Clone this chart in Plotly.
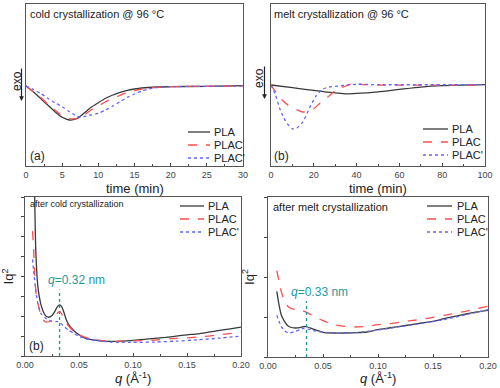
import plotly.graph_objects as go

# ---------------- data ----------------
# (a) cold crystallization @ 96 C  (time in min, heat flow arbitrary units)
ta_pla = [0, 1, 2, 3, 4, 5, 6, 7, 8, 9, 10, 11, 12, 13, 14, 15, 16, 18, 20, 25, 30]
ya_pla = [0, -5.7, -12.3, -19, -25.7, -31.3, -34, -32.7, -27.3, -21.3, -16.7, -12.3, -9, -6.3, -4.3, -3, -2, -1, -0.7, -0.3, 0.3]
ta_plac = [0, 1, 2, 3, 4, 5, 6, 7, 8, 9, 10, 11, 12, 13, 14, 15, 16, 18, 20, 25, 30]
ya_plac = [0, -6, -11.3, -18, -24, -30, -32.7, -32.3, -29, -24, -20, -15.7, -12.3, -9.3, -6.7, -4.7, -3, -1.3, -0.7, -0.3, 0]
ta_placp = [0, 1, 2, 3, 4, 5, 6, 7, 7.5, 8, 9, 10, 11, 12, 13, 14, 15, 16, 17, 18, 20, 25, 30]
ya_placp = [0, -3.3, -7.3, -12.3, -16.7, -20.7, -25.7, -30, -31.3, -30.7, -29, -27.3, -24, -20, -15.7, -11.3, -8, -5, -3, -1.7, -0.7, -0.3, 0]

# (b) melt crystallization @ 96 C
tb_pla = [0, 10, 20, 25, 30, 35, 40, 50, 60, 70, 80, 100]
yb_pla = [0, -2.7, -5.3, -6.7, -7.7, -8.7, -8.3, -6.7, -4.3, -2, -0.7, 0.3]
tb_plac = [0, 2, 5, 8, 10, 13, 15, 17, 20, 23, 27, 30, 35, 38, 40, 42, 45, 50, 100]
yb_plac = [0, -6, -14.3, -20, -22.7, -25.3, -26.7, -26, -23.3, -17.7, -11, -5.3, -1, 1.3, 1.7, 0.7, 0.3, 0, 0]
tb_placp = [0, 2, 4, 6, 8, 10, 12, 15, 18, 21, 24, 27, 30, 35, 40, 50, 100]
yb_placp = [0, -9.3, -22.7, -32.7, -39.3, -43.3, -42.7, -36, -22.7, -11, -4.3, -2, -1.3, -0.3, 0.7, 0.3, 0.3]

# (c) SAXS after cold crystallization (q in 1/A, Iq^2 arbitrary units)
qc_pla = [0.009, 0.010, 0.012, 0.015, 0.018, 0.020, 0.022, 0.025, 0.028, 0.030, 0.032, 0.034, 0.036, 0.038,
          0.040, 0.045, 0.050, 0.055, 0.060, 0.070, 0.080, 0.090, 0.100, 0.110, 0.120, 0.130, 0.140,
          0.150, 0.160, 0.170, 0.180, 0.190, 0.200]
ic_pla = [160, 105.7, 69, 50.7, 42.3, 39.7, 39, 40.7, 45.7, 49.7, 51.3, 49.7, 44, 37.3,
          32.3, 25.7, 21.3, 18.3, 16.7, 15.3, 14.7, 15, 15.7, 16.7, 17.7, 18.7, 20,
          21.3, 22.3, 24, 25.7, 27.3, 29]
qc_plac = [0.007, 0.008, 0.009, 0.010, 0.012, 0.015, 0.018, 0.020, 0.025, 0.028, 0.030, 0.032, 0.034, 0.036,
           0.040, 0.045, 0.050, 0.060, 0.070, 0.080, 0.090, 0.100, 0.120, 0.140, 0.160, 0.180, 0.200]
ic_plac = [125.7, 107.3, 82.3, 65.7, 52.3, 40.7, 35, 34, 35.7, 39.7, 43, 45, 42.3, 37.3,
           30.7, 25, 21.3, 17.3, 15.7, 14.7, 15, 15.3, 16, 17.7, 19, 21.3, 24]
qc_placp = [0.007, 0.008, 0.010, 0.012, 0.015, 0.020, 0.025, 0.030, 0.032, 0.035, 0.040, 0.045, 0.050,
            0.060, 0.070, 0.080, 0.090, 0.100, 0.120, 0.140, 0.160, 0.180, 0.200]
ic_placp = [97.3, 85.7, 65.7, 52.3, 42.3, 37.3, 35, 34.7, 34, 30.7, 26.3, 23, 19.7,
            16.7, 15, 14, 13.7, 13.7, 14, 15, 16.3, 18, 20]

# (d) SAXS after melt crystallization
qd_pla = [0.008, 0.010, 0.012, 0.015, 0.018, 0.020, 0.025, 0.030, 0.033, 0.036, 0.040, 0.045, 0.050,
          0.060, 0.070, 0.080, 0.090, 0.100, 0.110, 0.120, 0.130, 0.140, 0.150, 0.160, 0.170,
          0.180, 0.190, 0.200]
id_pla = [65.7, 52.3, 42.3, 35.7, 31.3, 30, 29, 29.7, 30.7, 30, 28.3, 26.3, 24.7,
          24, 24, 24.3, 25, 27.3, 29, 30.7, 32.3, 34, 35.7, 38.3, 40.7,
          43, 45, 46.7]
qd_plac = [0.008, 0.010, 0.012, 0.015, 0.018, 0.020, 0.025, 0.030, 0.035, 0.040, 0.050, 0.060, 0.070,
           0.080, 0.090, 0.100, 0.110, 0.120, 0.130, 0.140, 0.150, 0.160, 0.170, 0.180, 0.190, 0.200]
id_plac = [86.3, 75.7, 65.7, 55.7, 50.7, 49, 47.3, 46.3, 44.7, 41.7, 36.3, 32.3, 30.7,
           30, 30.7, 32.3, 33.3, 34.7, 36.3, 37.7, 39.7, 41.7, 43.7, 45.7, 48.3, 50.7]
qd_placp = [0.008, 0.010, 0.012, 0.015, 0.018, 0.020, 0.025, 0.030, 0.033, 0.036, 0.040, 0.050, 0.060,
            0.080, 0.100, 0.120, 0.140, 0.160, 0.180, 0.200]
id_placp = [41.7, 35.7, 30.7, 26.3, 24.3, 24, 25.7, 27.7, 29, 28, 26.7, 24.7, 24,
            24.3, 27, 30.3, 33.7, 37.3, 42.3, 47.3]

series_names = ["PLA", "PLAC", "PLAC'"]
series_colors = ["#3a3a3a", "#ff4d4d", "#6464ff"]
series_dash = ["solid", "dash", "dot"]

peak_q_c = 0.032
peak_label_c = "<i>q</i>=0.32 nm"
peak_q_d = 0.035
peak_label_d = "<i>q</i>=0.33 nm"

x_ticks_a = [0, 5, 10, 15, 20, 25, 30]
x_ticks_b = [0, 20, 40, 60, 80, 100]
x_ticks_q = [0.00, 0.05, 0.10, 0.15, 0.20]

# ---------------- figure ----------------
FONT = "Liberation Sans, Arial, sans-serif"
W, H = 500, 388
fig = go.Figure()

panels = [
    ("x", "y", [(ta_pla, ya_pla), (ta_plac, ya_plac), (ta_placp, ya_placp)]),
    ("x2", "y2", [(tb_pla, yb_pla), (tb_plac, yb_plac), (tb_placp, yb_placp)]),
    ("x3", "y3", [(qc_pla, ic_pla), (qc_plac, ic_plac), (qc_placp, ic_placp)]),
    ("x4", "y4", [(qd_pla, id_pla), (qd_plac, id_plac), (qd_placp, id_placp)]),
]
for xa, ya, data in panels:
    for i, (xs, ys) in enumerate(data):
        fig.add_trace(go.Scatter(
            x=xs, y=ys, xaxis=xa, yaxis=ya, mode="lines", name=series_names[i],
            line=dict(color=series_colors[i], dash=series_dash[i], width=1.3, shape="spline", smoothing=0.6),
            showlegend=False))

# peak marker lines (vertical dotted teal)
teal = "#1f9a9a"
fig.add_trace(go.Scatter(x=[peak_q_c, peak_q_c], y=[0, 67], xaxis="x3", yaxis="y3", mode="lines",
                         line=dict(color=teal, dash="dot", width=1.3), showlegend=False))
fig.add_trace(go.Scatter(x=[peak_q_d, peak_q_d], y=[0, 56], xaxis="x4", yaxis="y4", mode="lines",
                         line=dict(color=teal, dash="dot", width=1.3), showlegend=False))


def px(xp):
    return xp / W


def py(yp):
    return 1 - yp / H


dom = {
    "a": ([px(26), px(243)], [py(166), py(4)]),
    "b": ([px(271), px(485)], [py(166), py(4)]),
    "c": ([px(25), px(241)], [py(356), py(197)]),
    "d": ([px(268), px(488)], [py(357), py(197)]),
}

axcommon = dict(showline=True, mirror=True, linecolor="#555555", linewidth=1.2,
                showgrid=False, zeroline=False, automargin=False,
                tickfont=dict(family=FONT, size=9, color="#444444"))
xcommon = dict(ticks="inside", ticklen=3, **axcommon)

tfont = dict(family=FONT, size=13, color="#222222")

fig.update_layout(
    width=W, height=H, margin=dict(l=0, r=0, t=0, b=0),
    paper_bgcolor="white", plot_bgcolor="white", showlegend=False,
    font=dict(family=FONT, color="#222222"),
    xaxis=dict(domain=dom["a"][0], anchor="y", range=[0, 30], tickvals=x_ticks_a,
               minor=dict(ticks="inside", ticklen=2, dtick=2.5), **xcommon),
    yaxis=dict(domain=dom["a"][1], anchor="x", range=[-80, 82], showticklabels=False, ticks="", **axcommon),
    xaxis2=dict(domain=dom["b"][0], anchor="y2", range=[0, 100], tickvals=x_ticks_b,
                minor=dict(ticks="inside", ticklen=2, dtick=10), **xcommon),
    yaxis2=dict(domain=dom["b"][1], anchor="x2", range=[-80, 80], showticklabels=False, ticks="", **axcommon),
    xaxis3=dict(domain=dom["c"][0], anchor="y3", range=[0, 0.2], tickvals=x_ticks_q, tickformat=".2f",
                minor=dict(ticks="inside", ticklen=2, dtick=0.025), **xcommon),
    yaxis3=dict(domain=dom["c"][1], anchor="x3", range=[0, 160], showticklabels=False,
                ticks="outside", ticklen=3, dtick=20,
                title=dict(text="Iq<sup>2</sup>", font=tfont, standoff=6), **axcommon),
    xaxis4=dict(domain=dom["d"][0], anchor="y4", range=[0, 0.2], tickvals=x_ticks_q, tickformat=".2f",
                minor=dict(ticks="inside", ticklen=2, dtick=0.025), **xcommon),
    yaxis4=dict(domain=dom["d"][1], anchor="x4", range=[0, 160], showticklabels=False,
                ticks="outside", ticklen=3, dtick=40,
                title=dict(text="Iq<sup>2</sup>", font=tfont, standoff=6), **axcommon),
)

# x-axis titles placed precisely
for xt, yt, txt in [(135, 188, "time (min)"), (378, 188, "time (min)"),
                    (133, 378, "<i>q</i> (Å<sup>-1</sup>)"), (378, 378, "<i>q</i> (Å<sup>-1</sup>)")]:
    fig.add_annotation(xref="paper", yref="paper", x=px(xt), y=py(yt), text=txt, showarrow=False,
                       xanchor="center", yanchor="middle", font=tfont)

# legends (keys drawn as short paper-space line samples + text), one per panel
legend_pos = [  # (key x0, key x1, text x, [entry y's]) in pixels
    (188, 210, 212, [132, 145, 158]),
    (423, 448, 450, [129, 142, 155]),
    (180, 204, 206, [206, 219, 232]),
    (427, 452, 455, [206, 219, 232]),
]
legfont = dict(family=FONT, size=11, color="#222222")
for x0, x1, xt, ys in legend_pos:
    for i, yy in enumerate(ys):
        fig.add_shape(type="line", xref="paper", yref="paper", x0=px(x0), x1=px(x1), y0=py(yy), y1=py(yy),
                      line=dict(color=series_colors[i], dash=series_dash[i], width=1.3))
        fig.add_annotation(xref="paper", yref="paper", x=px(xt), y=py(yy), text=series_names[i],
                           showarrow=False, xanchor="left", yanchor="middle", font=legfont)

small = dict(family=FONT, size=11, color="#222222")
ann = [
    dict(text="cold crystallization @ 96 °C", x=px(28), y=py(14), xanchor="left", yanchor="middle", font=small),
    dict(text="melt crystallization @ 96 °C", x=px(272), y=py(14), xanchor="left", yanchor="middle", font=small),
    dict(text="(a)", x=px(28), y=py(156), xanchor="left", yanchor="middle", font=dict(family=FONT, size=12, color="#222")),
    dict(text="(b)", x=px(272), y=py(156), xanchor="left", yanchor="middle", font=dict(family=FONT, size=12, color="#222")),
    dict(text="(b)", x=px(27), y=py(346), xanchor="left", yanchor="middle", font=dict(family=FONT, size=12, color="#222")),
    dict(text="after cold crystallization", x=px(28), y=py(204), xanchor="left", yanchor="middle",
         font=dict(family=FONT, size=9, color="#222")),
    dict(text="after melt crystallization", x=px(271), y=py(207), xanchor="left", yanchor="middle",
         font=dict(family=FONT, size=11, color="#222")),
    dict(text="exo", x=px(17), y=py(81), textangle=-90, xanchor="center", yanchor="middle",
         font=dict(family=FONT, size=12, color="#222")),
    dict(text="exo", x=px(259), y=py(78), textangle=-90, xanchor="center", yanchor="middle",
         font=dict(family=FONT, size=12, color="#222")),
]
for a in ann:
    fig.add_annotation(xref="paper", yref="paper", showarrow=False, **a)

# exo arrows
for xa, ytail, yhead in [(21.5, 67, 101), (264.5, 65, 99)]:
    fig.add_annotation(xref="paper", yref="paper", x=px(xa), y=py(yhead), ax=0, ay=-(yhead - ytail),
                       axref="pixel", ayref="pixel", text="", showarrow=True,
                       arrowhead=2, arrowsize=0.8, arrowwidth=1.2, arrowcolor="#222")

# peak labels
fig.add_annotation(xref="x3", yref="y3", x=0.048, y=76, text=peak_label_c, showarrow=False,
                   font=dict(family=FONT, size=12, color=teal))
fig.add_annotation(xref="x4", yref="y4", x=0.047, y=65, text=peak_label_d, showarrow=False,
                   font=dict(family=FONT, size=12, color=teal))

fig.write_html("out.html", config={"displayModeBar": False},
               post_script="document.body.style.margin='0';document.body.style.padding='0';")
